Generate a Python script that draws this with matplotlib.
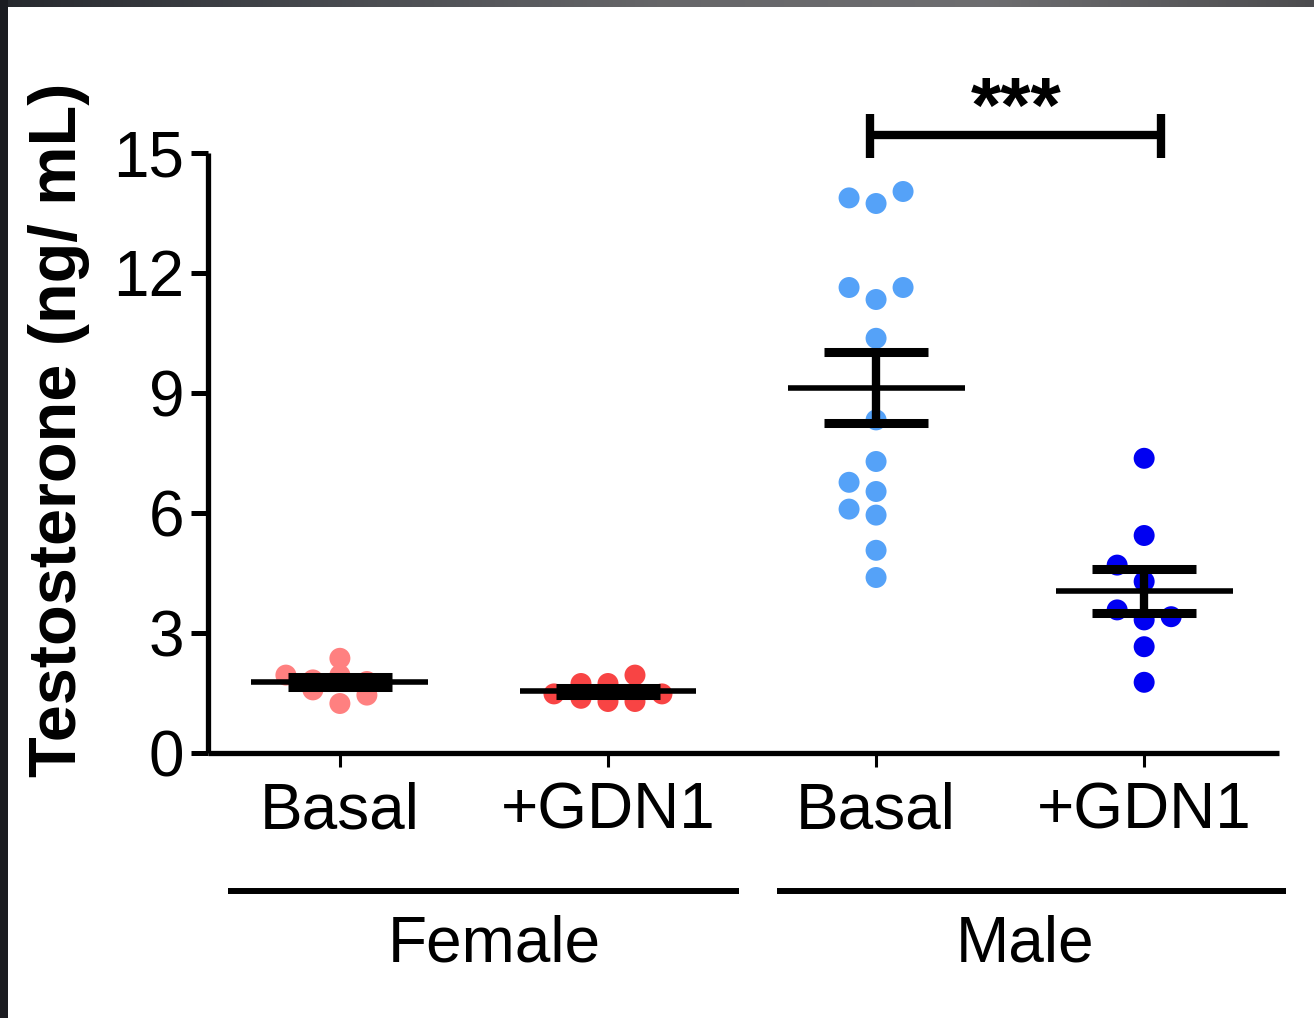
import numpy as np
import matplotlib
matplotlib.use('Agg')
import matplotlib.pyplot as plt
from matplotlib.lines import Line2D

# ---------------- data ----------------
conditions = ['Basal', '+GDN1', 'Basal', '+GDN1']
sexes = ['Female', 'Male']
female_basal = [1.23, 1.57, 1.44, 1.94, 1.82, 1.78, 1.94, 2.36]
female_gdn1 = [1.28, 1.36, 1.28, 1.47, 1.47, 1.73, 1.73, 1.94]
male_basal = [4.38, 5.06, 5.94, 6.09, 6.53, 6.76, 7.28, 8.32, 10.36,
              11.33, 11.63, 11.63, 13.73, 13.87, 14.03]
male_gdn1 = [1.76, 2.65, 3.32, 3.57, 3.40, 4.28, 4.69, 5.43, 7.36]
series = [female_basal, female_gdn1, male_basal, male_gdn1]
colors = ['#FF8080', '#F84444', '#55A2F8', '#0000F2']
yticks = [0, 3, 6, 9, 12, 15]
ylabel = 'Testosterone (ng/ mL)'
significance = '***'

plt.rcParams['font.family'] = ['Liberation Sans', 'DejaVu Sans']

W, H, DPI = 1314, 1018, 100
fig = plt.figure(figsize=(W / DPI, H / DPI), dpi=DPI)
fig.patch.set_facecolor('white')

# dark screenshot border (top and left)
bord = fig.add_axes([0, 1 - 7 / H, 1, 7 / H])
grad = np.array([[0.15, 0.16, 0.18], [0.28, 0.29, 0.31], [0.40, 0.40, 0.41],
                 [0.43, 0.43, 0.44], [0.30, 0.30, 0.31]])
xs = np.linspace(0, 1, 300)
img = np.stack([np.interp(xs, np.linspace(0, 1, len(grad)), grad[:, c]) for c in range(3)], axis=-1)
bord.imshow(img[None, :, :], aspect='auto', extent=[0, 1, 0, 1])
bord.axis('off')
left = fig.add_axes([0, 0, 8 / W, 1])
left.set_facecolor('#1b1c21')
left.set_xticks([]); left.set_yticks([])
for s in left.spines.values():
    s.set_visible(False)

# main axes
x0_px, x1_px = 208, 1279
y0_px, y1_px = 752.7, 152.7
ax = fig.add_axes([x0_px / W, 1 - y0_px / H, (x1_px - x0_px) / W, (y0_px - y1_px) / H])
xl = (-0.492, 3.503)
ax.set_xlim(*xl)
ax.set_ylim(0, 15)
px_x = (x1_px - x0_px) / (xl[1] - xl[0])

for s in ['top', 'right']:
    ax.spines[s].set_visible(False)
for s in ['left', 'bottom']:
    ax.spines[s].set_linewidth(3.8)
    ax.spines[s].set_capstyle('butt')

ax.set_yticks(yticks)
ax.set_yticklabels([str(t) for t in yticks], fontsize=46)
ax.tick_params(axis='y', length=12, width=3.6, pad=5, direction='out')
ax.set_xticks(range(len(conditions)))
ax.set_xticklabels(conditions, fontsize=46)
ax.tick_params(axis='x', length=10, width=2.2, pad=11, direction='out')


def scatter_offsets(vals, row_h=0.42, spacing_px=27.0):
    """Row-binned scatter: points within row_h of a row's lowest value share a row,
    spread at fixed spacing in the order given."""
    vals = np.asarray(vals)
    order = np.argsort(vals, kind='stable')
    rows, start = [], None
    for j in order:
        if start is None or vals[j] - start > row_h:
            rows.append([j])
            start = vals[j]
        else:
            rows[-1].append(j)
    seq = [0]
    for k in range(1, 10):
        seq += [-k, k]
    off = np.zeros(len(vals))
    for row in rows:
        for k, j in enumerate(sorted(row)):
            off[j] = seq[k] * spacing_px / px_x
    return off


for i, (vals, col) in enumerate(zip(series, colors)):
    vals = np.asarray(vals)
    off = scatter_offsets(vals)
    ax.scatter(i + off, vals, s=228, color=col, edgecolors='none', zorder=2, clip_on=False)
    m = vals.mean()
    sem = vals.std(ddof=1) / np.sqrt(len(vals))
    ax.plot([i - 0.33, i + 0.33], [m, m], color='black', lw=4.0, zorder=3, solid_capstyle='butt')
    ax.plot([i, i], [m - sem, m + sem], color='black', lw=6.0, zorder=3, solid_capstyle='butt')
    for yy in (m - sem, m + sem):
        ax.plot([i - 0.195, i + 0.195], [yy, yy], color='black', lw=6.5, zorder=3,
                solid_capstyle='butt')

# significance bracket
bx0, bx1 = 1.979, 3.064
by = 15.44
ax.plot([bx0, bx1], [by, by], color='black', lw=6.0, clip_on=False, solid_capstyle='butt')
for bx in (bx0, bx1):
    ax.plot([bx, bx], [by - 0.56, by + 0.52], color='black', lw=6.0, clip_on=False,
            solid_capstyle='butt')
ax.text((bx0 + bx1) / 2, 15.52, significance, ha='center', va='baseline',
        fontsize=56, fontweight='bold')

# group lines and labels
def xpx(px):
    return px / W

fig.add_artist(Line2D([xpx(228), xpx(739)], [1 - 890.5 / H] * 2, color='black', lw=4.3,
                      solid_capstyle='butt'))
fig.add_artist(Line2D([xpx(777), xpx(1286)], [1 - 890.5 / H] * 2, color='black', lw=4.3,
                      solid_capstyle='butt'))
fig.text(xpx(494), 1 - 944 / H, sexes[0], ha='center', va='center', fontsize=46)
fig.text(xpx(1025), 1 - 944 / H, sexes[1], ha='center', va='center', fontsize=46)

fig.text(xpx(59), 1 - 430 / H, ylabel, rotation=90, ha='center', va='center',
         fontsize=48, fontweight='bold')

fig.savefig('out.png', dpi=DPI)
